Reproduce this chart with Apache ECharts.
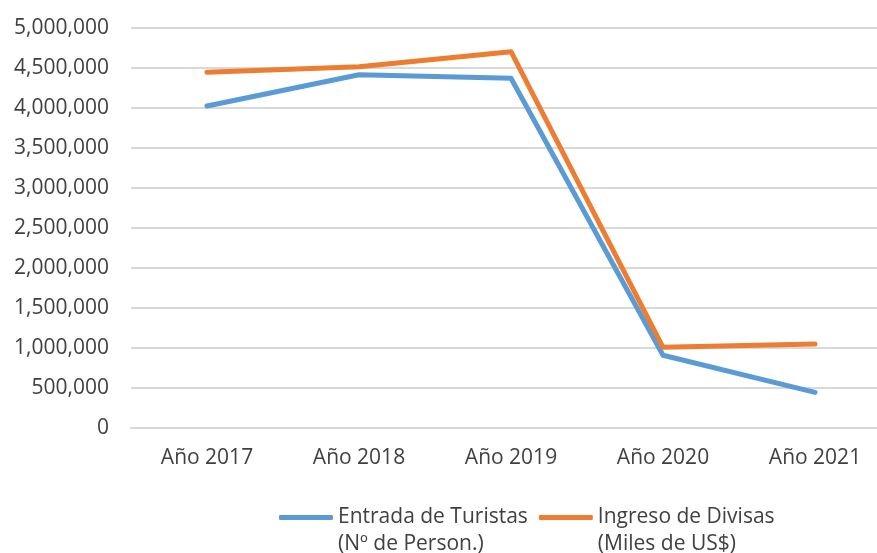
<!DOCTYPE html>
<html>
<head>
<meta charset="utf-8">
<script src="https://cdn.jsdelivr.net/npm/echarts@6/dist/echarts.min.js"></script>
<style>
  html, body { margin: 0; padding: 0; background: #fff; }
  #chart { width: 877px; height: 553px; }
</style>
</head>
<body>
<div id="chart"></div>
<script>
const categories = ['Año 2017', 'Año 2018', 'Año 2019', 'Año 2020', 'Año 2021']
const turistas = [4025000, 4415000, 4371000, 910000, 446000]
const divisas = [4446000, 4516000, 4704000, 1008000, 1050000]
const seriesNames = ['Entrada de Turistas\n(Nº de Person.)', 'Ingreso de Divisas\n(Miles de US$)']

const textColor = '#404040'
const fontFamily = '"Open Sans", "Liberation Sans", sans-serif'

const chart = echarts.init(document.getElementById('chart'))

chart.setOption({
  animation: false,
  grid: {
    left: 131,
    width: 760, // the original picture is cropped on the right
    top: 28,
    bottom: 125,
    outerBoundsMode: 'none',
    containLabel: false
  },
  legend: {
    left: 274,
    top: 472,
    icon: 'roundRect',
    itemWidth: 54,
    itemHeight: 5,
    itemGap: 11,
    data: seriesNames,
    // leading blank line so the first line sits level with the icon
    formatter: name => '\n' + name,
    textStyle: {
      color: textColor,
      fontFamily: fontFamily,
      fontSize: 21,
      lineHeight: 27
    }
  },
  xAxis: {
    type: 'category',
    data: categories,
    boundaryGap: true,
    axisLine: { lineStyle: { color: '#D9D9D9', width: 2 } },
    axisTick: { show: false },
    axisLabel: {
      color: textColor,
      fontFamily: fontFamily,
      fontSize: 21,
      margin: 20
    }
  },
  yAxis: {
    type: 'value',
    min: 0,
    max: 5000000,
    interval: 500000,
    axisLine: { show: false },
    axisTick: { show: false },
    splitLine: { lineStyle: { color: '#D9D9D9', width: 2 } },
    axisLabel: {
      color: textColor,
      fontFamily: fontFamily,
      fontSize: 21,
      margin: 22,
      formatter: v => v.toLocaleString('en-US')
    }
  },
  series: [{
    name: seriesNames[0],
    type: 'line',
    data: turistas,
    showSymbol: false,
    symbol: 'none',
    itemStyle: { color: '#5B9BD5' },
    lineStyle: { color: '#5B9BD5', width: 5, cap: 'round', join: 'round' }
  }, {
    name: seriesNames[1],
    type: 'line',
    data: divisas,
    showSymbol: false,
    symbol: 'none',
    itemStyle: { color: '#ED7D31' },
    lineStyle: { color: '#ED7D31', width: 5, cap: 'round', join: 'round' }
  }]
})
</script>
</body>
</html>
